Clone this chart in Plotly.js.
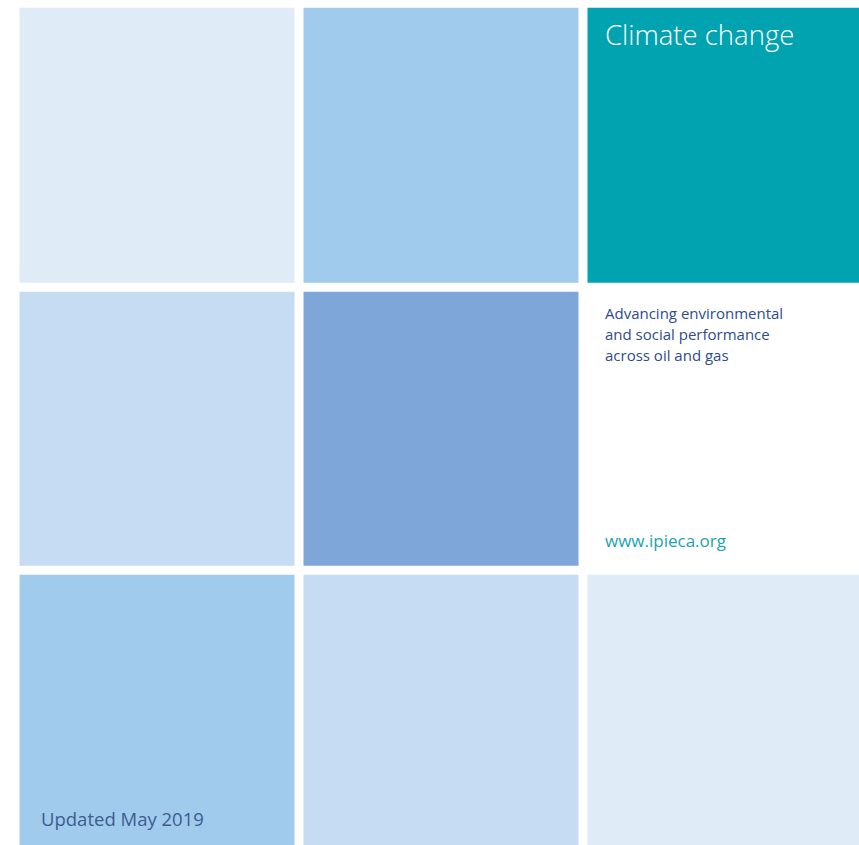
<!DOCTYPE html>
<html><head><meta charset="utf-8">
<script src="https://cdn.plot.ly/plotly-3.0.1.min.js"></script>
<style>html,body{margin:0;padding:0;background:#fff;}#chart{width:859px;height:845px;}</style>
</head><body><div id="chart"></div>
<script>
// Grid of tiles (3 columns x 3 rows); edges in page pixel units
var colEdges = [15.5, 299.5, 583.5, 867.5];
var rowEdges = [3.75, 287.25, 570.75, 854.25];
// tile shade index per row (0 = white, 1..4 blues, 5 = teal)
var tileShade = [
  [1, 3, 5],
  [2, 4, 0],
  [3, 2, 1]
];
var shadeColors = ['#FFFFFF', '#DFEBF7', '#C5DCF2', '#A1CBEC', '#7FA6D8', '#00A3AF'];

var titleText = 'Climate change';
var taglineLines = ['Advancing environmental', 'and social performance', 'across oil and gas'];
var taglineY = [313, 334, 355];
var urlText = 'www.ipieca.org';
var updatedText = 'Updated May 2019';

var cs = shadeColors.map(function(c, i){ return [i/(shadeColors.length-1), c]; });

var trace = {
  type: 'heatmap',
  x: colEdges,
  y: rowEdges,
  z: tileShade,
  zmin: 0, zmax: shadeColors.length-1,
  colorscale: cs,
  showscale: false,
  xgap: 9, ygap: 9,
  hoverinfo: 'skip'
};

var font = "'Open Sans', 'Noto Sans', sans-serif";
var annotations = [
  {x: 603, y: 34, xref: 'x', yref: 'y', xanchor: 'left', yanchor: 'middle', showarrow: false,
   text: titleText, font: {family: font, size: 27.5, color: '#FFFFFF', weight: 300}},
  {x: 603, y: 540, xref: 'x', yref: 'y', xanchor: 'left', yanchor: 'middle', showarrow: false,
   text: urlText, font: {family: font, size: 17, color: '#1AA3B0'}},
  {x: 39, y: 818, xref: 'x', yref: 'y', xanchor: 'left', yanchor: 'middle', showarrow: false,
   text: updatedText, font: {family: font, size: 18.5, color: '#3E5C92'}}
];
taglineLines.forEach(function(t, i){
  annotations.push({x: 603, y: taglineY[i], xref: 'x', yref: 'y', xanchor: 'left', yanchor: 'middle',
    showarrow: false, text: t, font: {family: font, size: 15, color: '#2E4C8C'}});
});

var layout = {
  width: 859, height: 845,
  margin: {l: 0, r: 0, t: 0, b: 0, pad: 0},
  paper_bgcolor: '#FFFFFF', plot_bgcolor: '#FFFFFF',
  xaxis: {range: [0, 859], visible: false, fixedrange: true},
  yaxis: {range: [845, 0], visible: false, fixedrange: true},
  showlegend: false,
  annotations: annotations
};

Plotly.newPlot('chart', [trace], layout, {displayModeBar: false, staticPlot: true});
</script>
</body></html>
